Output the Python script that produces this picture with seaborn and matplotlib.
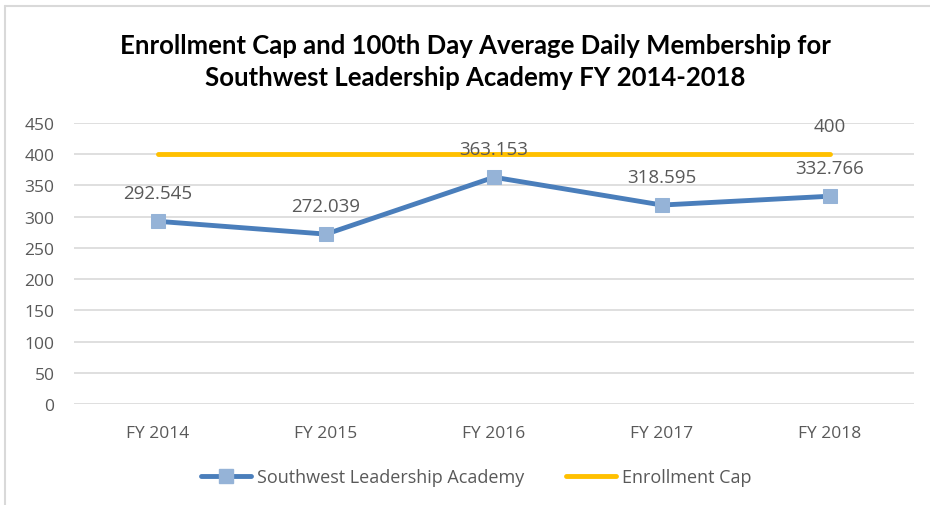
import matplotlib
matplotlib.use("Agg")
import matplotlib.pyplot as plt
from matplotlib.lines import Line2D
import seaborn as sns
import pandas as pd

# chart data
years = ["FY 2014", "FY 2015", "FY 2016", "FY 2017", "FY 2018"]
membership = [292.545, 272.039, 363.153, 318.595, 332.766]
enrollment_cap = [400, 400, 400, 400, 400]
y_ticks = [0, 50, 100, 150, 200, 250, 300, 350, 400, 450]

df = pd.DataFrame({"year": years, "Southwest Leadership Academy": membership,
                   "Enrollment Cap": enrollment_cap})

sns.set_style("white")
plt.rcParams['font.family'] = ['Open Sans', 'DejaVu Sans']

blue = "#4A7EBB"
marker_blue = "#95B3D7"
yellow = "#FFC000"
grey_txt = "#595959"

fig = plt.figure(figsize=(9.3, 5.06), dpi=100)
ax = fig.add_axes([74 / 930, 1 - 405 / 506, 840 / 930, 281 / 506])

sns.lineplot(data=df, x="year", y="Southwest Leadership Academy", ax=ax, color=blue,
             linewidth=3.5, marker="s", markersize=10, markerfacecolor=marker_blue,
             markeredgecolor=marker_blue, sort=False, zorder=3)
sns.lineplot(data=df, x="year", y="Enrollment Cap", ax=ax, color=yellow,
             linewidth=3.5, sort=False, zorder=2, solid_capstyle="round")

ax.set_xlim(-0.5, len(years) - 0.5)
ax.set_ylim(0, 450)
ax.set_yticks(y_ticks)
ax.set_xticks(range(len(years)))
ax.set_xticklabels(years)
ax.yaxis.grid(True, color="#D9D9D9", linewidth=1.2)
ax.set_axisbelow(True)
for s in ax.spines.values():
    s.set_visible(False)
ax.tick_params(axis="both", length=0, labelsize=12.5, labelcolor=grey_txt)
ax.tick_params(axis="y", pad=14)
ax.tick_params(axis="x", pad=15)
ax.set_xlabel("")
ax.set_ylabel("")

# data labels
for i, v in enumerate(membership):
    ax.annotate(f"{v:g}", (i, v), xytext=(0, 20.5), textcoords="offset points",
                ha="center", va="center", fontsize=13.5, color=grey_txt)
ax.annotate(f"{enrollment_cap[-1]:g}", (len(years) - 1, enrollment_cap[-1]),
            xytext=(0, 20.5), textcoords="offset points", ha="center", va="center",
            fontsize=13.5, color=grey_txt)

fig.text(475 / 930, 1 - 62 / 506,
         "Enrollment Cap and 100th Day Average Daily Membership for\nSouthwest Leadership Academy FY 2014-2018",
         ha="center", va="center", fontsize=18.5, fontweight="bold", color="black",
         linespacing=1.42, family=["Lato", "DejaVu Sans"])

handles = [
    Line2D([], [], color=blue, linewidth=3.5, marker="s", markersize=10,
           markerfacecolor=marker_blue, markeredgecolor=marker_blue),
    Line2D([], [], color=yellow, linewidth=3.5),
]
fig.legend(handles, ["Southwest Leadership Academy", "Enrollment Cap"],
           loc="center", bbox_to_anchor=(476 / 930, 1 - 478 / 506), ncol=2,
           frameon=False, fontsize=13, labelcolor=grey_txt, handlelength=2.8,
           handletextpad=0.3, columnspacing=2.3)

# chart border (left and top edges visible)
fig.add_artist(Line2D([5 / 930, 5 / 930], [0, 1 - 7 / 506], color="#D9D9D9",
                      linewidth=1.5, transform=fig.transFigure))
fig.add_artist(Line2D([5 / 930, 1], [1 - 7 / 506, 1 - 7 / 506], color="#D9D9D9",
                      linewidth=1.5, transform=fig.transFigure))

fig.savefig("out.png", dpi=100)
